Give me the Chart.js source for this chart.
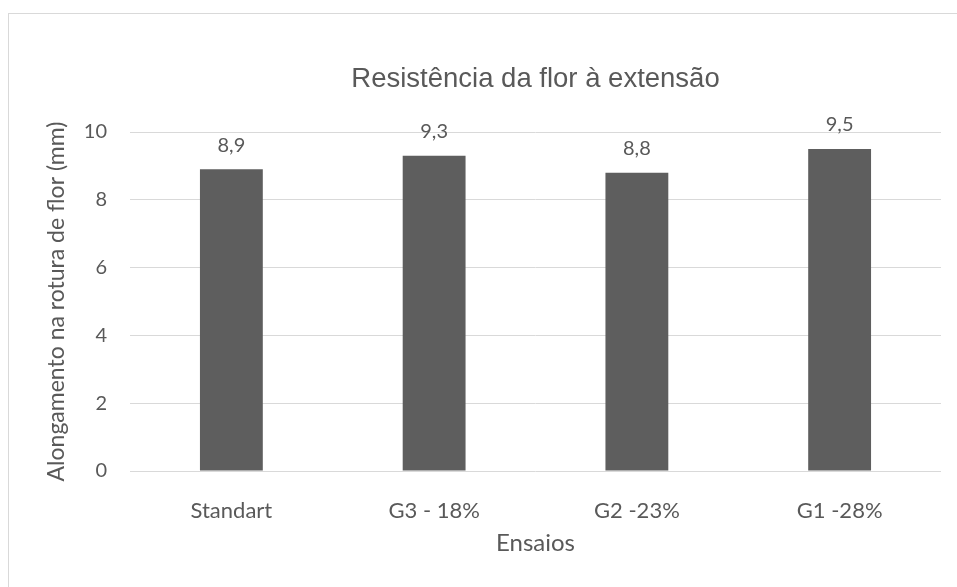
<!DOCTYPE html>
<html>
<head>
<meta charset="utf-8">
<script src="https://cdn.jsdelivr.net/npm/chart.js@4.4.1/dist/chart.umd.min.js"></script>
<style>
  html, body { margin: 0; padding: 0; background: #fff; overflow: hidden; }
  #frame { position: absolute; left: 8px; top: 13px; width: 1000px; height: 700px; border: 1px solid #d9d9d9; box-sizing: border-box; }
  #wrap { position: absolute; left: 0; top: 0; width: 957px; height: 587px; }
</style>
</head>
<body>
<div id="frame"></div>
<div id="wrap"><canvas id="chart_1" width="957" height="587"></canvas></div>
<script>
// data
const categories = ['Standart', 'G3 - 18%', 'G2 -23%', 'G1 -28%']
const values = [8.9, 9.3, 8.8, 9.5]
const yTicks = [0, 2, 4, 6, 8, 10]

const textColor = '#595959'
const barColor = '#5e5e5e'
const gridColor = '#d9d9d9'

// value labels above each bar, comma decimals like the original
const barLabels = {
  id: 'barLabels',
  afterDatasetsDraw(chart) {
    const ctx = chart.ctx
    const meta = chart.getDatasetMeta(0)
    ctx.save()
    ctx.font = '20px Lato'
    ctx.fillStyle = textColor
    ctx.textAlign = 'center'
    ctx.textBaseline = 'middle'
    meta.data.forEach((bar, i) => {
      ctx.fillText(values[i].toFixed(1).replace('.', ','), bar.x, bar.y - 24)
    })
    ctx.restore()
  }
}

new Chart('chart_1', {
  type: 'bar',
  data: {
    labels: categories,
    datasets: [{
      data: values,
      backgroundColor: barColor,
      categoryPercentage: 1,
      barPercentage: 0.31
    }]
  },
  options: {
    responsive: false,
    animation: false,
    layout: { padding: { left: 10, right: 16, top: 0, bottom: 0 } },
    plugins: {
      legend: { display: false },
      tooltip: { enabled: false },
      title: {
        display: true,
        text: 'Resistência da flor à extensão',
        fullSize: false,
        color: textColor,
        font: { family: '"Liberation Sans", Arial', size: 27.5, weight: 'normal', lineHeight: 1.2 },
        padding: { top: 63, bottom: 36 }
      }
    },
    scales: {
      x: {
        grid: { display: false },
        border: { display: false },
        ticks: { color: textColor, padding: 19, font: { family: 'Lato', size: 22 } },
        title: {
          display: true,
          text: 'Ensaios',
          color: textColor,
          font: { family: 'Lato', size: 24 },
          padding: { top: 0, bottom: 29 }
        },
        afterFit(scale) { scale.height = 116 }
      },
      y: {
        min: 0,
        max: 10,
        afterBuildTicks(scale) { scale.ticks = yTicks.map(v => ({ value: v })) },
        grid: { color: gridColor, lineWidth: 1, drawTicks: false },
        border: { display: false },
        ticks: { color: textColor, padding: 23, font: { family: 'Lato', size: 20 } },
        title: {
          display: true,
          text: 'Alongamento na rotura de flor (mm)',
          color: textColor,
          font: { family: 'Lato', size: 23 },
          padding: { top: 33, bottom: 0 }
        },
        afterFit(scale) { scale.width = 120 }
      }
    }
  },
  plugins: [barLabels]
})
</script>
</body>
</html>
